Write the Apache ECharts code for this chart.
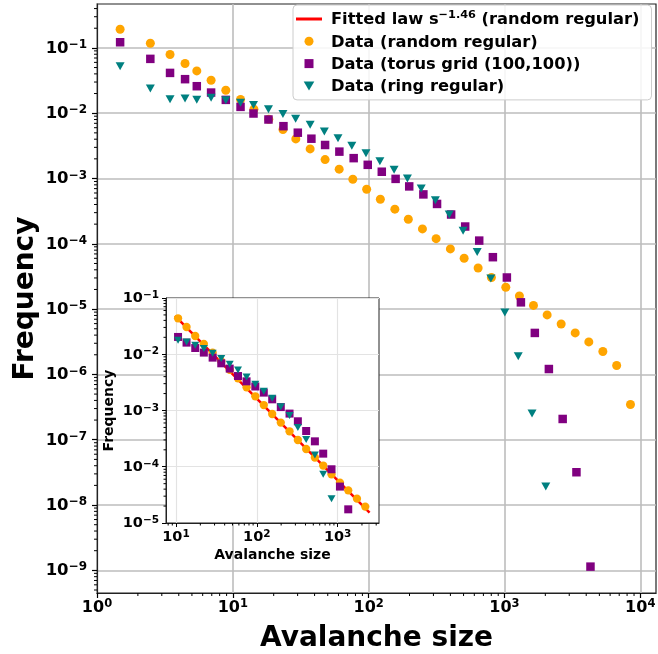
<!DOCTYPE html>
<html>
<head>
<meta charset="utf-8">
<script src="https://cdn.jsdelivr.net/npm/echarts@6/dist/echarts.min.js"></script>
<style>
html,body{margin:0;padding:0;background:#fff;}
#chart{width:658px;height:654px;}
</style>
</head>
<body>
<div id="chart"></div>
<script>
// ---------------- data ----------------
const FIT_NAME = 'Fitted law s^-1.46 (random regular)';
const RANDOM_NAME = 'Data (random regular)';
const TORUS_NAME = 'Data (torus grid (100,100))';
const RING_NAME = 'Data (ring regular)';

// main plot
const sizesRandom = [1.48, 2.47, 3.45, 4.45, 5.43, 6.92, 8.88, 11.4, 14.3, 18.4, 23.4, 29.1, 37.1, 47.8, 60.7, 76.5, 96.7, 122, 156, 196, 249, 314, 400, 505, 640, 802, 1023, 1289, 1636, 2063, 2616, 3319, 4181, 5305, 6703, 8472];
const freqRandom = [0.193, 0.118, 0.0792, 0.0577, 0.0444, 0.0320, 0.0225, 0.0162, 0.0115, 0.00809, 0.00562, 0.00404, 0.00284, 0.00195, 0.00139, 0.000975, 0.000685, 0.000482, 0.000339, 0.000238, 0.000169, 0.000120, 8.36e-5, 6.02e-5, 4.27e-5, 3.05e-5, 2.16e-5, 1.59e-5, 1.14e-5, 8.15e-6, 5.93e-6, 4.32e-6, 3.15e-6, 2.24e-6, 1.37e-6, 3.46e-7];

const sizesTorus = [1.48, 2.47, 3.45, 4.45, 5.43, 6.92, 8.88, 11.4, 14.2, 18.3, 23.6, 30.1, 37.9, 47.8, 60.9, 77.6, 98.5, 125, 158, 199, 253, 319, 405, 514, 652, 822, 1042, 1322, 1674, 2124, 2684, 3390, 4300];
const freqTorus = [0.122, 0.0679, 0.0414, 0.0332, 0.0259, 0.0207, 0.0160, 0.0125, 0.00989, 0.00801, 0.00633, 0.00503, 0.00407, 0.00326, 0.00258, 0.00205, 0.00162, 0.00127, 0.000987, 0.000757, 0.000571, 0.000408, 0.000281, 0.000184, 0.000112, 6.24e-5, 3.05e-5, 1.27e-5, 4.32e-6, 1.21e-6, 2.08e-7, 3.18e-8, 1.14e-9];

const sizesRing = [1.48, 2.47, 3.45, 4.45, 5.43, 6.92, 8.88, 11.4, 14.2, 18.3, 23.4, 29.0, 37.1, 47.2, 59.5, 75.2, 95.6, 121, 154, 193, 244, 310, 392, 496, 630, 794, 1007, 1264, 1596, 2016];
const freqRing = [0.0525, 0.0239, 0.0164, 0.0168, 0.0160, 0.0172, 0.0158, 0.0144, 0.0133, 0.0115, 0.00975, 0.00824, 0.00664, 0.00525, 0.00414, 0.00317, 0.00244, 0.00183, 0.00136, 0.00100, 0.000705, 0.000465, 0.000281, 0.000158, 7.52e-5, 2.94e-5, 8.87e-6, 1.90e-6, 2.52e-7, 1.92e-8];

// inset plot
const insetSizes = [10.6, 13.5, 17.3, 22.1, 28.4, 36.3, 46.2, 58.5, 74.7, 95.8, 122, 155, 198, 254, 322, 408, 523, 663, 840, 1068, 1353, 1735, 2198];
const insetRandom = [0.0436, 0.0305, 0.0211, 0.0152, 0.0107, 0.00749, 0.00530, 0.00374, 0.00258, 0.00179, 0.00125, 0.000867, 0.000610, 0.000427, 0.000299, 0.000207, 0.000146, 0.000105, 7.34e-5, 5.23e-5, 3.81e-5, 2.71e-5, 1.96e-5];
const insetTorus = [0.0203, 0.0161, 0.0129, 0.0107, 0.00871, 0.00690, 0.00556, 0.00410, 0.00330, 0.00267, 0.00208, 0.00158, 0.00115, 0.000881, 0.000643, 0.000432, 0.000283, 0.000171, 9.02e-5, 4.44e-5, 1.75e-5];
const insetRing = [0.0177, 0.0165, 0.0144, 0.0126, 0.0104, 0.00837, 0.00663, 0.00525, 0.00394, 0.00292, 0.00219, 0.00165, 0.00117, 0.000811, 0.000497, 0.000304, 0.000162, 7.34e-5, 2.71e-5];
const fitSizes = [9.72, 2483];
const fitFreq = [0.0479, 1.53e-5];

// tick labels
const mainXTicks = [1, 10, 100, 1000, 10000];
const mainYTicks = [1e-1, 1e-2, 1e-3, 1e-4, 1e-5, 1e-6, 1e-7, 1e-8, 1e-9];
const insetXTicks = [10, 100, 1000];
const insetYTicks = [1e-1, 1e-2, 1e-3, 1e-4, 1e-5];

// ---------------- helpers ----------------
const FONT = 'DejaVu Sans';
const C_ORANGE = '#ffa500', C_PURPLE = '#800080', C_TEAL = '#008080', C_RED = '#ff0000';
const TRI_DOWN = 'path://M0,0L20,0L10,17Z';
const SQUARE = 'path://M0,0L10,0L10,10L0,10Z';
const BAR = 'path://M0,0L26,0L26,3L0,3Z';

function pairs(xs, ys) { return ys.map((y, i) => [xs[i], y]); }

function powLabel(v) {
  const l = Math.log10(v);
  const e = Math.round(l);
  if (Math.abs(l - e) > 1e-6) return '';
  const s = e < 0 ? '\u2212' + (-e) : String(e);
  return '{b|10}{s|' + s + '}';
}
function richFor(base, sup, lh, slh) {
  return {
    b: {fontFamily: FONT, fontWeight: 'bold', fontSize: base, lineHeight: lh, verticalAlign: 'bottom', color: '#000'},
    s: {fontFamily: FONT, fontWeight: 'bold', fontSize: sup, lineHeight: slh, verticalAlign: 'top', color: '#000'}
  };
}
function minorVals(min, max) {
  const out = [];
  for (let d = Math.floor(Math.log10(min)); d <= Math.ceil(Math.log10(max)); d++) {
    for (let k = 2; k <= 9; k++) {
      const v = k * Math.pow(10, d);
      if (v >= min && v <= max) out.push(v);
    }
  }
  return out;
}
function minorXSeries(xi, yi, vals, yRef, len, z) {
  return {
    type: 'custom', xAxisIndex: xi, yAxisIndex: yi, silent: true, z: z, clip: false,
    data: vals.map(v => [v, yRef]),
    renderItem: function (params, api) {
      const cs = params.coordSys;
      const x = api.coord([api.value(0), api.value(1)])[0];
      const yb = cs.y + cs.height;
      return {type: 'line', shape: {x1: x, y1: yb, x2: x, y2: yb + len}, style: {stroke: '#000', lineWidth: 1}};
    }
  };
}
function minorYSeries(xi, yi, vals, xRef, len, z) {
  return {
    type: 'custom', xAxisIndex: xi, yAxisIndex: yi, silent: true, z: z, clip: false,
    data: vals.map(v => [xRef, v]),
    renderItem: function (params, api) {
      const cs = params.coordSys;
      const y = api.coord([api.value(0), api.value(1)])[1];
      return {type: 'line', shape: {x1: cs.x, y1: y, x2: cs.x - len, y2: y}, style: {stroke: '#000', lineWidth: 1}};
    }
  };
}

// axis ranges
const MX = [1, 13060], MY = [4.5e-10, 0.47];
const IX = [7.52, 3250], IY = [1e-5, 0.1];

const chart = echarts.init(document.getElementById('chart'), null, {renderer: 'canvas'});

const option = {
  animation: false,
  backgroundColor: '#fff',
  grid: [
    {left: 97, top: 4, width: 559, height: 589, show: true, backgroundColor: '#fff',
     borderColor: '#222', borderWidth: 1.2, z: 0, outerBoundsMode: 'none', containLabel: false},
    {left: 166, top: 298, width: 213, height: 225, show: true, backgroundColor: '#fff',
     borderColor: '#222', borderWidth: 1, z: 3, outerBoundsMode: 'none', containLabel: false}
  ],
  xAxis: [
    {type: 'log', gridIndex: 0, min: MX[0], max: MX[1], logBase: 10, splitNumber: 5,
     name: 'Avalanche size', nameLocation: 'middle', nameGap: 32,
     nameTextStyle: {fontFamily: FONT, fontWeight: 'bold', fontSize: 28, color: '#000'},
     axisLine: {show: true, lineStyle: {color: '#222', width: 1.2}},
     axisTick: {show: true, length: 5, lineStyle: {color: '#000', width: 1.2}, customValues: mainXTicks},
     axisLabel: {margin: 5, formatter: powLabel, customValues: mainXTicks, rich: richFor(16, 11.5, 18, 9)},
     splitLine: {show: true, lineStyle: {color: '#bdbdbd', width: 1.6}}},
    {type: 'log', gridIndex: 1, min: IX[0], max: IX[1], logBase: 10, z: 4,
     name: 'Avalanche size', nameLocation: 'middle', nameGap: 25,
     nameTextStyle: {fontFamily: FONT, fontWeight: 'bold', fontSize: 14, color: '#000'},
     axisLine: {show: true, lineStyle: {color: '#222', width: 1}},
     axisTick: {show: true, length: 4, lineStyle: {color: '#000', width: 1}, customValues: insetXTicks},
     axisLabel: {margin: 6, formatter: powLabel, customValues: insetXTicks, rich: richFor(14.5, 10.5, 16, 7)},
     splitLine: {show: true, lineStyle: {color: '#e3e3e3', width: 1.2}}}
  ],
  yAxis: [
    {type: 'log', gridIndex: 0, min: MY[0], max: MY[1], logBase: 10, splitNumber: 9,
     name: 'Frequency', nameLocation: 'middle', nameGap: 57, nameRotate: 90, nameMoveOverlap: false,
     nameTextStyle: {fontFamily: FONT, fontWeight: 'bold', fontSize: 28, color: '#000'},
     axisLine: {show: true, lineStyle: {color: '#222', width: 1.2}},
     axisTick: {show: true, length: 5, lineStyle: {color: '#000', width: 1.2}, customValues: mainYTicks},
     axisLabel: {margin: 10, formatter: powLabel, customValues: mainYTicks, rich: richFor(16.5, 12, 18, 9)},
     splitLine: {show: true, lineStyle: {color: '#bdbdbd', width: 1.6}}},
    {type: 'log', gridIndex: 1, min: IY[0], max: IY[1], logBase: 10, z: 4,
     name: 'Frequency', nameLocation: 'middle', nameGap: 50, nameRotate: 90,
     nameTextStyle: {fontFamily: FONT, fontWeight: 'bold', fontSize: 14, color: '#000'},
     axisLine: {show: true, lineStyle: {color: '#222', width: 1}},
     axisTick: {show: true, length: 4, lineStyle: {color: '#000', width: 1}, customValues: insetYTicks},
     axisLabel: {margin: 7, formatter: powLabel, customValues: insetYTicks, rich: richFor(14.5, 10.5, 16, 7)},
     splitLine: {show: true, lineStyle: {color: '#e3e3e3', width: 1.2}}}
  ],
  legend: {
    orient: 'vertical', left: 293, top: 5, itemGap: 4.3, itemWidth: 26, itemHeight: 9,
    padding: [5, 12, 5, 3],
    backgroundColor: 'rgba(255,255,255,0.85)', borderColor: '#cccccc', borderWidth: 1, borderRadius: 4,
    z: 10,
    textStyle: {
      fontFamily: FONT, fontWeight: 'bold', fontSize: 16.3, color: '#000', lineHeight: 18, padding: [0, 0, 0, 4],
      rich: {
        b: {fontFamily: FONT, fontWeight: 'bold', fontSize: 16.3, lineHeight: 18, verticalAlign: 'bottom', color: '#000'},
        s: {fontFamily: FONT, fontWeight: 'bold', fontSize: 11.3, lineHeight: 8, verticalAlign: 'top', color: '#000'}
      }
    },
    formatter: function (name) {
      if (name === FIT_NAME) return '{b|Fitted law s}{s|\u22121.46}{b| (random regular)}';
      return '{b|' + name + '}';
    },
    data: [
      {name: FIT_NAME, icon: BAR, lineStyle: {color: C_RED, width: 3, type: 'solid'}, itemStyle: {color: C_RED}},
      {name: RANDOM_NAME, icon: 'circle'},
      {name: TORUS_NAME, icon: SQUARE},
      {name: RING_NAME, icon: TRI_DOWN}
    ]
  },
  series: [
    // main plot
    {name: RANDOM_NAME, type: 'scatter', xAxisIndex: 0, yAxisIndex: 0, z: 2,
     symbol: 'circle', symbolSize: 9, itemStyle: {color: C_ORANGE, opacity: 1}, data: pairs(sizesRandom, freqRandom)},
    {name: TORUS_NAME, type: 'scatter', xAxisIndex: 0, yAxisIndex: 0, z: 2,
     symbol: 'rect', symbolSize: 8.5, itemStyle: {color: C_PURPLE, opacity: 1}, data: pairs(sizesTorus, freqTorus)},
    {name: RING_NAME, type: 'scatter', xAxisIndex: 0, yAxisIndex: 0, z: 2,
     symbol: TRI_DOWN, symbolSize: [9, 8], itemStyle: {color: C_TEAL, opacity: 1}, data: pairs(sizesRing, freqRing)},
    // inset
    {name: FIT_NAME, type: 'line', xAxisIndex: 1, yAxisIndex: 1, z: 5, symbol: 'none', showSymbol: false,
     lineStyle: {color: C_RED, width: 2.5}, itemStyle: {color: C_RED}, data: pairs(fitSizes, fitFreq)},
    {name: RANDOM_NAME, type: 'scatter', xAxisIndex: 1, yAxisIndex: 1, z: 6,
     symbol: 'circle', symbolSize: 8.3, itemStyle: {color: C_ORANGE, opacity: 1}, data: pairs(insetSizes, insetRandom)},
    {name: TORUS_NAME, type: 'scatter', xAxisIndex: 1, yAxisIndex: 1, z: 6,
     symbol: 'rect', symbolSize: 8, itemStyle: {color: C_PURPLE, opacity: 1}, data: pairs(insetSizes, insetTorus)},
    {name: RING_NAME, type: 'scatter', xAxisIndex: 1, yAxisIndex: 1, z: 6,
     symbol: TRI_DOWN, symbolSize: [8, 7], itemStyle: {color: C_TEAL, opacity: 1}, data: pairs(insetSizes, insetRing)},
    // minor ticks
    minorXSeries(0, 0, minorVals(MX[0], MX[1]), 1e-3, 3, 2),
    minorYSeries(0, 0, minorVals(MY[0], MY[1]), 10, 3, 2),
    minorXSeries(1, 1, minorVals(IX[0], IX[1]), 1e-3, 2.5, 5),
    minorYSeries(1, 1, minorVals(IY[0], IY[1]), 100, 2.5, 5)
  ]
};
chart.setOption(option);
</script>
</body>
</html>
